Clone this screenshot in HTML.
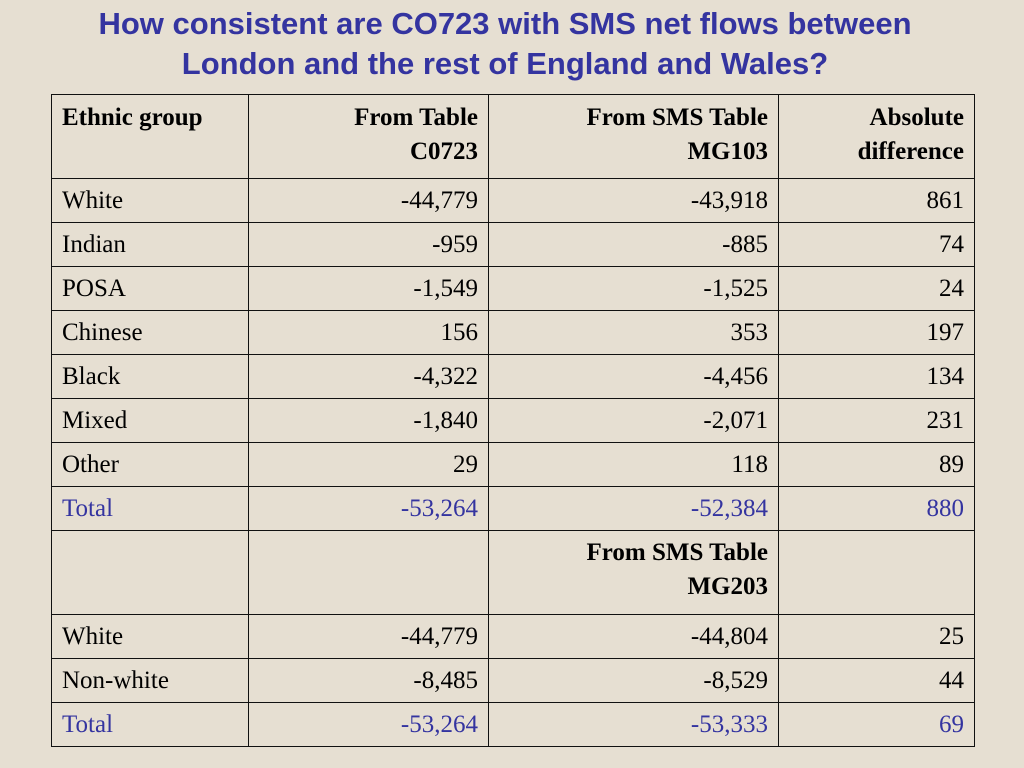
<!DOCTYPE html>
<html><head><meta charset="utf-8"><style>
html,body{margin:0;padding:0}
body{width:1024px;height:768px;background:#e6dfd2;position:relative;overflow:hidden;font-family:"Liberation Serif",serif}
#title{position:absolute;left:0;top:4px;width:1010px;text-align:center;font-family:"Liberation Sans",sans-serif;font-weight:bold;font-size:31px;line-height:40px;color:#3434a0}
table{position:absolute;left:51px;top:94px;border-collapse:collapse;font-size:25px;color:#000}
td{border:1.5px solid #111;padding:0 10px;vertical-align:top;line-height:34px}
td.n{text-align:right}
tr.h td{height:77px;font-weight:bold;padding-top:6px}
tr.r td{height:44px;padding-top:5px;box-sizing:border-box}
tr.t td{color:#3434a0}
</style></head><body>
<div id="title">How consistent are CO723 with SMS net flows between<br>London and the rest of England and Wales?</div>
<table>
<colgroup><col style="width:197px"><col style="width:240px"><col style="width:290px"><col style="width:196px"></colgroup>
<tr class="h"><td>Ethnic group</td><td class="n">From Table<br>C0723</td><td class="n">From SMS Table<br>MG103</td><td class="n">Absolute<br>difference</td></tr>
<tr class="r"><td>White</td><td class="n">-44,779</td><td class="n">-43,918</td><td class="n">861</td></tr>
<tr class="r"><td>Indian</td><td class="n">-959</td><td class="n">-885</td><td class="n">74</td></tr>
<tr class="r"><td>POSA</td><td class="n">-1,549</td><td class="n">-1,525</td><td class="n">24</td></tr>
<tr class="r"><td>Chinese</td><td class="n">156</td><td class="n">353</td><td class="n">197</td></tr>
<tr class="r"><td>Black</td><td class="n">-4,322</td><td class="n">-4,456</td><td class="n">134</td></tr>
<tr class="r"><td>Mixed</td><td class="n">-1,840</td><td class="n">-2,071</td><td class="n">231</td></tr>
<tr class="r"><td>Other</td><td class="n">29</td><td class="n">118</td><td class="n">89</td></tr>
<tr class="r t"><td>Total</td><td class="n">-53,264</td><td class="n">-52,384</td><td class="n">880</td></tr>
<tr class="h" style="height:79px"><td></td><td></td><td class="n" style="padding-top:5px">From SMS Table<br>MG203</td><td></td></tr>
<tr class="r"><td>White</td><td class="n">-44,779</td><td class="n">-44,804</td><td class="n">25</td></tr>
<tr class="r"><td>Non-white</td><td class="n">-8,485</td><td class="n">-8,529</td><td class="n">44</td></tr>
<tr class="r t"><td>Total</td><td class="n">-53,264</td><td class="n">-53,333</td><td class="n">69</td></tr>
</table>
</body></html>
